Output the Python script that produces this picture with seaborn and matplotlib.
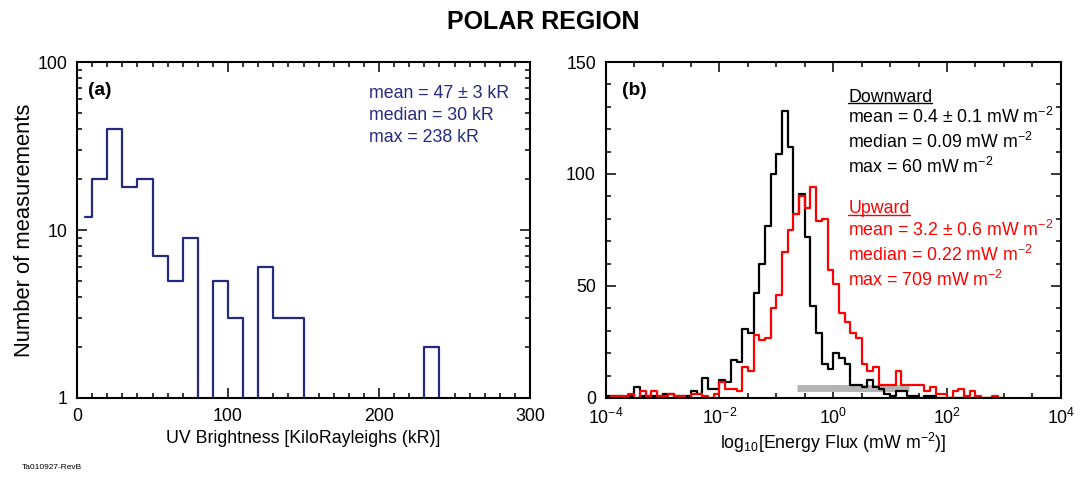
import numpy as np
import pandas as pd
import seaborn as sns
import matplotlib.pyplot as plt
from matplotlib.lines import Line2D
from matplotlib.ticker import FixedLocator, MultipleLocator, FuncFormatter, LogLocator, NullFormatter

# =========================
# Data
# =========================
# (a) UV brightness histogram, kR (first bin drawn from 5, as in the original)
uv_edges = [5, 10, 20, 30, 40, 50, 60, 70, 80, 90, 100, 110, 120, 130, 140, 150,
            160, 170, 180, 190, 200, 210, 220, 230, 240, 250, 260, 270, 280, 290, 300]
uv_counts = [12, 20, 40, 18, 20, 7, 5, 9, 0, 5, 3, 0, 6, 3, 3,
             0, 0, 0, 0, 0, 0, 0, 0, 2, 0, 0, 0, 0, 0, 0]

# (b) energy flux histograms, 0.1-decade bins from 10^-4 to 10^3
flux_log_start = -4.0
flux_log_step = 0.1
down_counts = [1, 1, 1, 0, 1, 5, 1, 1, 1, 1, 2, 2, 1, 1, 1, 3, 2, 9, 4, 4,
               8, 7, 17, 16, 31, 29, 47, 60, 77, 100, 109, 128, 112, 82, 91, 72, 41, 29, 15, 13,
               20, 18, 15, 6, 6, 5, 8, 5, 4, 2, 1, 3, 3, 1, 1, 0, 1, 1, 0, 0,
               0, 0, 0, 0, 0, 0, 0, 0, 0, 0]
up_counts = [0, 1, 1, 1, 2, 0, 3, 1, 3, 1, 1, 2, 1, 1, 0, 2, 2, 1, 0, 2,
             7, 4, 4, 3, 14, 12, 28, 26, 27, 40, 46, 65, 75, 82, 90, 85, 94, 79, 80, 57,
             51, 38, 34, 29, 27, 15, 12, 14, 6, 6, 6, 12, 6, 6, 6, 6, 3, 5, 2, 2,
             0, 3, 4, 1, 3, 1, 0, 0, 1, 0]
gray_range_log = [-0.64, 1.34]
gray_level = 4.6

uv_stats = ["mean = 47 \u00b1 3 kR", "median = 30 kR", "max = 238 kR"]
down_stats = ["mean = 0.4 \u00b1 0.1 mW m$^{-2}$", "median = 0.09 mW m$^{-2}$", "max = 60 mW m$^{-2}$"]
up_stats = ["mean = 3.2 \u00b1 0.6 mW m$^{-2}$", "median = 0.22 mW m$^{-2}$", "max = 709 mW m$^{-2}$"]

# =========================
# Style
# =========================
sns.set_style("ticks")
fonts = ["Liberation Sans", "DejaVu Sans"]
plt.rcParams["font.family"] = fonts
plt.rcParams["mathtext.fontset"] = "custom"
plt.rcParams["mathtext.rm"] = "Liberation Sans"
plt.rcParams["mathtext.it"] = "Liberation Sans:italic"
plt.rcParams["mathtext.bf"] = "Liberation Sans:bold"
plt.rcParams["axes.linewidth"] = 1.5
for key in ["text.color", "axes.labelcolor", "xtick.color", "ytick.color", "axes.edgecolor"]:
    plt.rcParams[key] = "black"

navy = "#232a80"
fs = 12.8

fig = plt.figure(figsize=(10.86, 4.78), dpi=100)
ax1 = fig.add_axes([77 / 1086, 1 - 398 / 478, 453 / 1086, 336 / 478])
ax2 = fig.add_axes([605.7 / 1086, 1 - 398 / 478, 455 / 1086, 336 / 478])

# =========================
# (a) UV brightness
# =========================
uv_df = pd.DataFrame({
    "x": [(a + b) / 2 for a, b in zip(uv_edges[:-1], uv_edges[1:])],
    "n": uv_counts,
})
sns.histplot(data=uv_df, x="x", weights="n", bins=uv_edges, element="step",
             fill=False, color=navy, linewidth=1.6, ax=ax1)
ax1.set_yscale("log")
ax1.set_xlim(0, 300)
ax1.set_ylim(1, 100)
ax1.xaxis.set_major_locator(MultipleLocator(100))
ax1.xaxis.set_minor_locator(MultipleLocator(10))
ax1.yaxis.set_major_locator(FixedLocator([1, 10, 100]))
ax1.yaxis.set_major_formatter(FuncFormatter(lambda v, p: f"{v:g}"))
ax1.yaxis.set_minor_locator(LogLocator(base=10, subs=np.arange(2, 10)))
ax1.yaxis.set_minor_formatter(NullFormatter())
ax1.set_xlabel("UV Brightness [KiloRayleighs (kR)]", fontsize=fs, labelpad=4)
ax1.set_ylabel("Number of measurements", fontsize=15.8, labelpad=2)
ax1.text(0.024, 0.902, "(a)", transform=ax1.transAxes, fontsize=fs + 1, fontweight="bold")
for i, s in enumerate(uv_stats):
    ax1.text(0.645, 0.894 - i * 0.0655, s, transform=ax1.transAxes, fontsize=fs,
             color=navy, va="baseline")

# =========================
# (b) energy flux
# =========================
nb = len(up_counts)
flux_edges = [flux_log_start + flux_log_step * k for k in range(nb + 1)]
centers = [e + flux_log_step / 2 for e in flux_edges[:-1]]
ax2.plot(gray_range_log, [gray_level, gray_level], color="#b4b4b4", lw=5,
         solid_capstyle="butt", zorder=1)
for counts, col in [(down_counts, "black"), (up_counts, "red")]:
    sns.histplot(x=centers, weights=counts, bins=flux_edges, element="step",
                 fill=False, color=col, linewidth=1.6, ax=ax2)
ax2.set_xlim(-4, 4)
ax2.set_ylim(0, 150)
ax2.xaxis.set_major_locator(MultipleLocator(2))
ax2.xaxis.set_minor_locator(MultipleLocator(0.5))
ax2.xaxis.set_major_formatter(FuncFormatter(lambda v, p: r"$10^{%d}$" % round(v)))
ax2.yaxis.set_major_locator(MultipleLocator(50))
ax2.yaxis.set_minor_locator(MultipleLocator(10))
ax2.set_xlabel(r"log$_{10}$[Energy Flux (mW m$^{-2}$)]", fontsize=fs, labelpad=2)
ax2.set_ylabel("")
ax2.text(0.036, 0.902, "(b)", transform=ax2.transAxes, fontsize=fs + 1, fontweight="bold")

t_down = ax2.text(0.533, 0.882, "Downward", transform=ax2.transAxes, fontsize=fs,
                  color="black", va="baseline")
for i, s in enumerate(down_stats):
    ax2.text(0.533, 0.818 - i * 0.0745, s, transform=ax2.transAxes, fontsize=fs,
             color="black", va="baseline")
t_up = ax2.text(0.533, 0.55, "Upward", transform=ax2.transAxes, fontsize=fs,
                color="red", va="baseline")
for i, s in enumerate(up_stats):
    ax2.text(0.533, 0.481 - i * 0.0745, s, transform=ax2.transAxes, fontsize=fs,
             color="red", va="baseline")

for ax in (ax1, ax2):
    ax.tick_params(which="both", direction="in", top=True, right=True,
                   labelsize=fs, width=1.1, pad=7, color="black", labelcolor="black")
    ax.tick_params(which="major", length=7)
    ax.tick_params(which="minor", length=3.5)
    for sp in ax.spines.values():
        sp.set_visible(True)
        sp.set_linewidth(1.5)
        sp.set_color("black")

fig.text(0.5, 0.954, "POLAR REGION", ha="center", va="center", fontsize=18,
         fontweight="bold")
fig.text(0.02, 0.023, "Ta010927-RevB", fontsize=6, va="center")

# underline the two legend headings
fig.canvas.draw()
r = fig.canvas.get_renderer()
for t, c in [(t_down, "black"), (t_up, "red")]:
    bb = t.get_window_extent(r)
    x0, x1 = bb.x0 / fig.bbox.width, bb.x1 / fig.bbox.width
    y = (bb.y0 + 2.5) / fig.bbox.height
    fig.add_artist(Line2D([x0, x1], [y, y], color=c, lw=1.0, transform=fig.transFigure))

fig.savefig("out.png", dpi=100)
